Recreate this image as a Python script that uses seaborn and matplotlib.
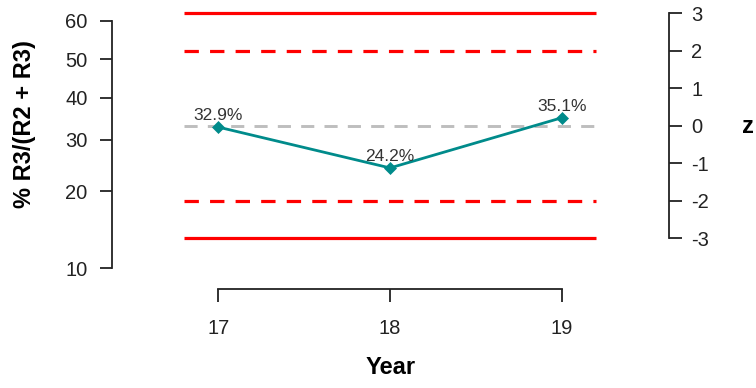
import numpy as np
import pandas as pd
import seaborn as sns
import matplotlib
matplotlib.use("Agg")
import matplotlib.pyplot as plt
from matplotlib.ticker import FixedLocator, FixedFormatter, NullLocator

# Share of R3 among R2 + R3, by year
years = [17, 18, 19]
share_pct = [32.9, 24.2, 35.1]

# Axis ticks
pct_ticks = [10, 20, 30, 40, 50, 60]
z_ticks = [-3, -2, -1, 0, 1, 2, 3]

# Control chart limits on the z scale
limit_solid = [-3, 3]
limit_dashed = [-2, 2]
center_z = [0]

# Overall share and spread on the logit scale (defines z)
CENTER_PCT = 33.2
SD_LOGIT = 0.394

TEAL = "#008B8B"
INK = "#222222"

sns.set_theme(style="white")
plt.rcParams["font.family"] = ["Liberation Sans", "DejaVu Sans"]

df = pd.DataFrame({"year": years, "share": [p / 100 for p in share_pct]})


def logit(p):
    p = np.asarray(p, dtype=float)
    return np.log(p / (1 - p))


fig = plt.figure(figsize=(7.56, 3.88), dpi=100)
ax = fig.add_axes([111.7 / 756, (388 - 289) / 388, (669 - 111.7) / 756, (289 - 8) / 388])
ax.set_yscale("logit")
ax.set_ylim(0.0821, 0.6316)
ax.set_xlim(16.379, 19.625)

# Secondary z axis, linear in logit units
ax2 = ax.twinx()
c = float(logit(CENTER_PCT / 100))
lo, hi = ax.get_ylim()
ax2.set_ylim((float(logit(lo)) - c) / SD_LOGIT, (float(logit(hi)) - c) / SD_LOGIT)

x0, x1 = 16.8, 19.2
ax2.hlines(limit_solid, x0, x1, colors="#FF0000", linewidth=2.3)
ax2.hlines(limit_dashed, x0, x1, colors="#FF0000", linewidth=2.3,
           linestyles=[(0, (4.5, 3.5))])
ax2.hlines(center_z, x0, x1, colors="#BEBEBE", linewidth=2.1,
           linestyles=[(0, (4.5, 3.5))])

# Keep the data series above the control lines
ax.set_zorder(ax2.get_zorder() + 1)
ax.patch.set_visible(False)

sns.lineplot(data=df, x="year", y="share", ax=ax, color=TEAL, linewidth=2,
             marker="D", markersize=6, markeredgecolor=TEAL, markeredgewidth=0.5)

for yr, p in zip(years, share_pct):
    ax.annotate(f"{p:.1f}%", (yr, p / 100), xytext=(0, 8), textcoords="offset points",
                ha="center", va="center", fontsize=12.5, color="#333333")

# Left axis (percent, logit spacing)
ax.yaxis.set_major_locator(FixedLocator([t / 100 for t in pct_ticks]))
ax.yaxis.set_major_formatter(FixedFormatter([str(t) for t in pct_ticks]))
ax.yaxis.set_minor_locator(NullLocator())
ax.set_xticks(years)
ax.set_xticklabels([str(y) for y in years])

for s in ("top", "right"):
    ax.spines[s].set_visible(False)
ax.spines["left"].set_bounds(0.1, 0.6)
ax.spines["bottom"].set_bounds(17, 19)
for s in ("left", "bottom"):
    ax.spines[s].set_color(INK)
    ax.spines[s].set_linewidth(1.3)

ax.tick_params(axis="y", left=True, right=False, direction="out", length=9, width=1.3,
               color=INK, labelsize=14.5, labelcolor=INK, pad=8.5)
ax.tick_params(axis="x", bottom=True, top=False, direction="out", length=9, width=1.3,
               color=INK, labelsize=14.5, labelcolor=INK, pad=12.5)

# Right axis (z)
for s in ("top", "left", "bottom"):
    ax2.spines[s].set_visible(False)
ax2.spines["right"].set_bounds(-3, 3)
ax2.spines["right"].set_color(INK)
ax2.spines["right"].set_linewidth(1.3)
ax2.set_yticks(z_ticks)
ax2.set_yticklabels([str(z) for z in z_ticks])
ax2.tick_params(axis="y", right=True, left=False, labelright=True, labelleft=False,
                direction="out", length=9, width=1.3, color=INK, labelsize=14.5,
                labelcolor=INK, pad=7)
ax2.grid(False)
ax.grid(False)

# Axis titles
ax.set_ylabel("% R3/(R2 + R3)", fontsize=17, fontweight="bold", color="black")
ax.yaxis.set_label_coords(-0.1556, 0.587)
ax.yaxis.label.set_va("center")

ax.set_xlabel("Year", fontsize=17, fontweight="bold", color="black")
ax.xaxis.set_label_coords(0.5, (289 - 368) / 281)
ax.xaxis.label.set_va("center")

ax2.set_ylabel("z", fontsize=17, fontweight="bold", color="black", rotation=0)
ax2.yaxis.set_label_coords(1.1418, 0.580)
ax2.yaxis.label.set_va("center")
ax2.yaxis.label.set_ha("center")

fig.savefig("out.png", dpi=100)
